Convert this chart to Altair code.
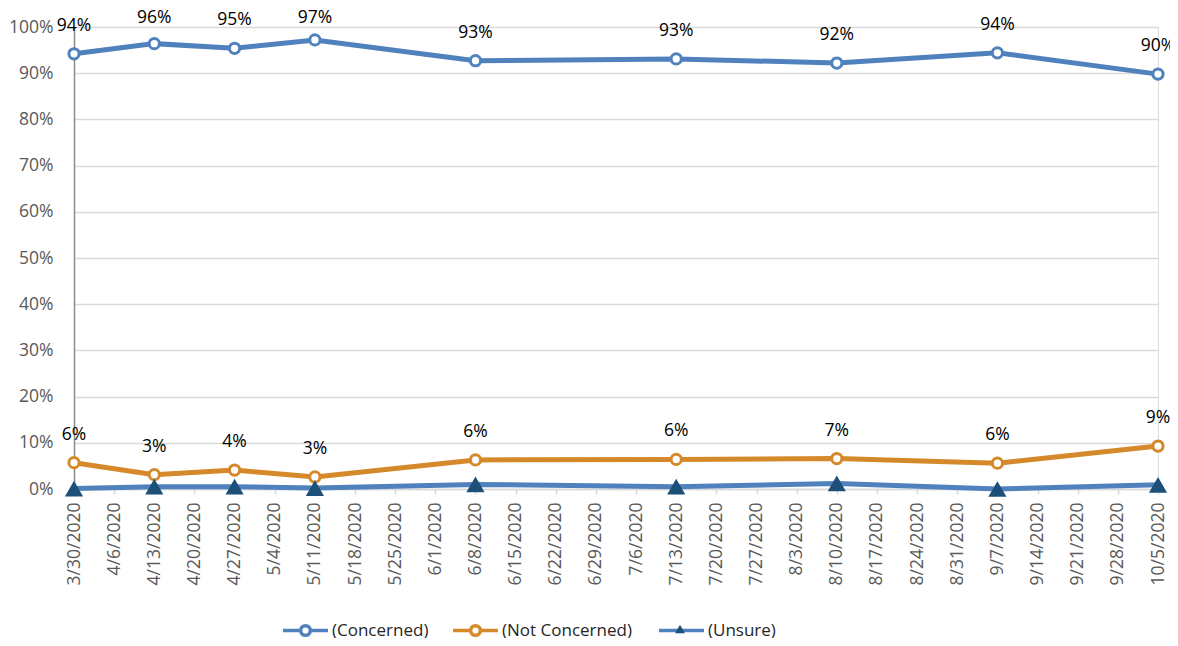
import altair as alt
import pandas as pd

# ---------------- data ----------------
week_labels = [
    "3/30/2020", "4/6/2020", "4/13/2020", "4/20/2020", "4/27/2020", "5/4/2020",
    "5/11/2020", "5/18/2020", "5/25/2020", "6/1/2020", "6/8/2020", "6/15/2020",
    "6/22/2020", "6/29/2020", "7/6/2020", "7/13/2020", "7/20/2020", "7/27/2020",
    "8/3/2020", "8/10/2020", "8/17/2020", "8/24/2020", "8/31/2020", "9/7/2020",
    "9/14/2020", "9/21/2020", "9/28/2020", "10/5/2020",
]
survey_dates = ["3/30/2020", "4/13/2020", "4/27/2020", "5/11/2020", "6/8/2020",
                "7/13/2020", "8/10/2020", "9/7/2020", "10/5/2020"]
series_names = ["(Concerned)", "(Not Concerned)", "(Unsure)"]
concerned = [94.2, 96.4, 95.4, 97.2, 92.7, 93.1, 92.2, 94.4, 89.8]
not_concerned = [5.7, 3.1, 4.1, 2.6, 6.3, 6.4, 6.6, 5.6, 9.3]
unsure = [0.1, 0.5, 0.5, 0.2, 1.0, 0.5, 1.2, 0.0, 0.9]
labelled_series = ["(Concerned)", "(Not Concerned)"]
circle_series = ["(Concerned)", "(Not Concerned)"]
y_ticks = [0.0, 0.1, 0.2, 0.3, 0.4, 0.5, 0.6, 0.7, 0.8, 0.9, 1.0]

# ---------------- styles ----------------
FONT = "Open Sans"
FS = 17.5
BLUE = "#4f81bd"
ORANGE = "#d6892a"
NAVY = "#1d5079"
line_colors = [BLUE, ORANGE, BLUE]
circle_colors = [BLUE, ORANGE]
CIRCLE_SYM = ("M-1,0L-0.215,0M0.215,0L1,0M0.215,0A0.215,0.215,0,1,1,-0.215,0"
              "A0.215,0.215,0,1,1,0.215,0Z")
LINE_SYM = "M-1,0L1,0"
legend_symbols = [CIRCLE_SYM, CIRCLE_SYM, LINE_SYM]
legend_x = [207, 377, 583]
LEGEND_Y = 579

rows = []
for s, vals in zip(series_names, [concerned, not_concerned, unsure]):
    for i, (d, v) in enumerate(zip(survey_dates, vals)):
        rows.append({"date": d, "series": s, "value": v / 100.0, "idx": i,
                     "show": s in labelled_series, "is_circle": s in circle_series})
df = pd.DataFrame(rows)

x_enc = alt.X(
    "date:O",
    scale=alt.Scale(type="point", domain=week_labels, padding=0),
    axis=alt.Axis(title=None, labelAngle=-90, labelFontSize=FS, labelFont=FONT,
                  labelColor="#595959", tickColor="#d9d9d9", tickSize=5,
                  tickWidth=1.5, domainColor="#d9d9d9", domainWidth=1.5,
                  labelPadding=8, grid=False, labelOverlap=False),
)


def y_enc(field):
    return alt.Y(
        field,
        scale=alt.Scale(domain=[0, 1], nice=False),
        axis=alt.Axis(title=None, format=".0%", values=y_ticks, labelFontSize=FS,
                      labelFont=FONT, labelColor="#595959", ticks=False,
                      domainColor="#8c8c8c", domainWidth=1.5, gridColor="#d9d9d9",
                      gridWidth=1.5, labelPadding=21),
    )


base = alt.Chart(df)

# one line layer per series, each with its own one-entry legend
line_layers = []
for name, col, sym, lx in zip(series_names, line_colors, legend_symbols, legend_x):
    line_layers.append(
        base.transform_filter(alt.datum.series == name).mark_line(strokeWidth=5).encode(
            x=x_enc,
            y=y_enc("value:Q"),
            order=alt.Order("idx:Q"),
            color=alt.Color(
                "series:N",
                scale=alt.Scale(domain=[name], range=[col]),
                legend=alt.Legend(title=None, orient="none", legendX=lx,
                                  legendY=LEGEND_Y, symbolType=sym, symbolSize=2025,
                                  symbolStrokeWidth=3.5, symbolFillColor="#ffffff",
                                  labelFont=FONT, labelFontSize=17,
                                  labelColor="#262626", labelOffset=2, labelLimit=0),
            ),
        )
    )

circles = base.transform_filter("datum.is_circle").mark_point(
    shape="circle", filled=False, fill="#ffffff", strokeWidth=3, opacity=1, size=105
).encode(
    x=x_enc,
    y=y_enc("value:Q"),
    stroke=alt.Stroke("series:N",
                      scale=alt.Scale(domain=circle_series, range=circle_colors),
                      legend=None),
)

triangles = base.transform_filter("!datum.is_circle").mark_point(
    shape="triangle-up", filled=True, opacity=1, size=330
).encode(
    x=x_enc,
    y=y_enc("value:Q"),
    color=alt.Color(
        "series:N",
        scale=alt.Scale(domain=["(Unsure)"], range=[NAVY]),
        legend=alt.Legend(title=None, orient="none", legendX=601, legendY=597,
                          symbolType="triangle-up", symbolSize=95,
                          symbolStrokeWidth=0, symbolOpacity=1, labelExpr="''",
                          labelFontSize=1, labelOffset=0),
    ),
)

labels = base.transform_filter("datum.show").transform_calculate(
    label_pos="min(datum.value, 0.958)"
).mark_text(
    dy=-28, fontSize=FS, font=FONT, color="#000000", baseline="middle"
).encode(
    x=x_enc,
    y=y_enc("label_pos:Q"),
    text=alt.Text("value:Q", format=".0%"),
)

chart = alt.layer(*line_layers, circles, triangles, labels).resolve_scale(
    color="independent"
).properties(
    width=1084,
    height=462,
    autosize=alt.AutoSizeParams(type="none"),
    padding={"left": 66, "top": 19, "right": 12, "bottom": 149},
).configure_view(stroke=None).configure(background="white")

chart.save("out.html", embed_options={"renderer": "svg", "actions": False})
